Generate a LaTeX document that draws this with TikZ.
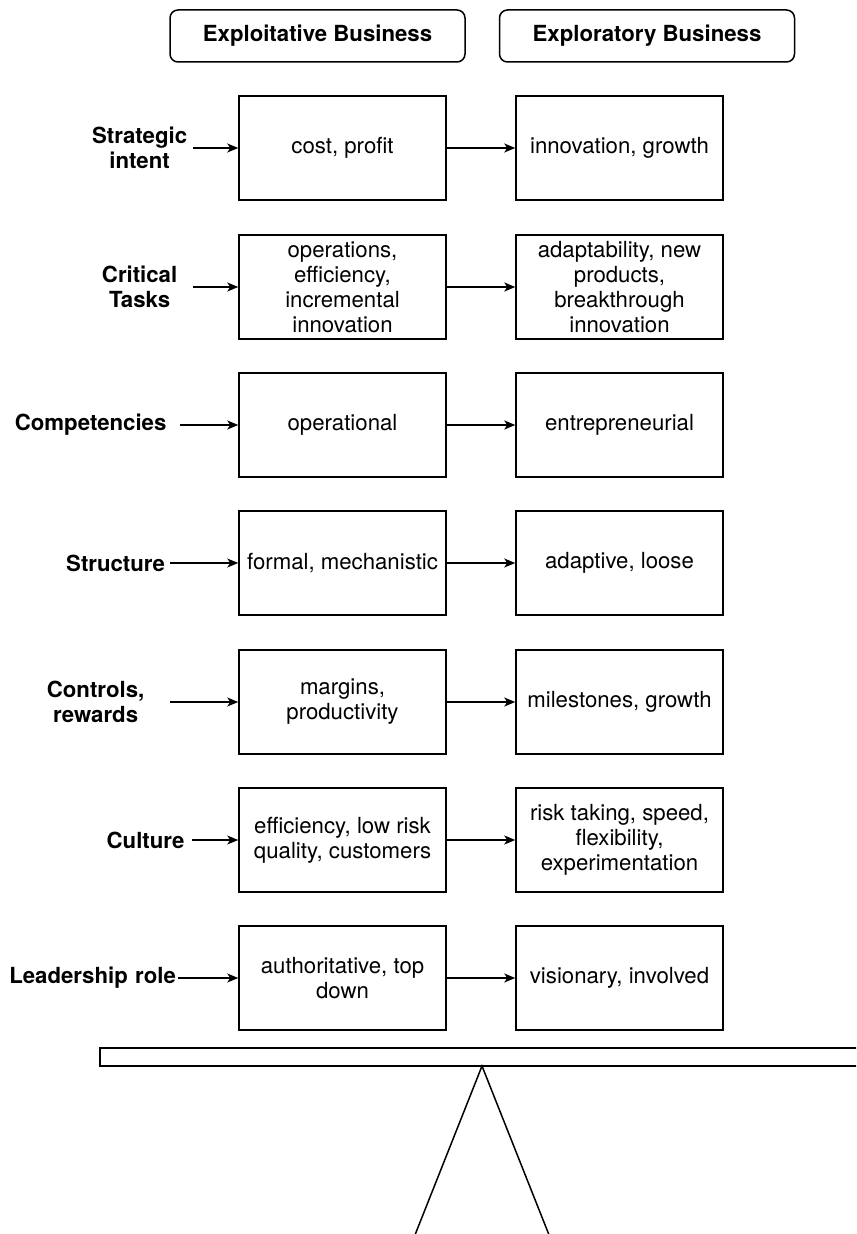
\documentclass[tikz,border=0pt]{standalone}
\usepackage{fontspec}
\setmainfont{TeX Gyre Heros}
\usetikzlibrary{arrows.meta}
\newcommand\diagfont{\fontsize{11.1}{12.5}\selectfont}
\tikzset{
  box/.style={draw, line width=0.75pt, minimum width=103.5pt, minimum height=52pt,
    align=center, inner sep=0pt, font=\diagfont},
  head/.style={draw, line width=0.75pt, rounded corners=4pt, minimum width=147.5pt,
    minimum height=26pt, inner sep=0pt, font=\diagfont\bfseries},
  lbl/.style={anchor=east, align=center, inner sep=0pt, font=\diagfont\bfseries},
  arr/.style={-{Stealth[length=5.5pt,width=4.5pt,inset=1.5pt]}, line width=0.75pt}
}
\begin{document}
\begin{tikzpicture}[x=0.5pt,y=-0.5pt]
  \useasboundingbox (0,0) rectangle (856,1234);
  % column heads
  \node[head] (hexploit) at (317.5,36) {Exploitative Business};
  \node[head] (hexplore) at (647,36) {Exploratory Business};
  % strategic intent
  \node[box] (cost) at (342.5,148) {cost, profit};
  \node[box] (growth) at (619.5,148) {innovation, growth};
  \node[lbl, text width=53pt] (intent) at (193,148) {Strategic\\intent};
  \draw[arr] (intent) -- (cost);
  \draw[arr] (cost) -- (growth);
  % critical tasks
  \node[box] (ops) at (342.5,287) {operations,\\efficiency,\\incremental\\innovation};
  \node[box] (adapt) at (619.5,287) {adaptability, new\\products,\\breakthrough\\innovation};
  \node[lbl, text width=53pt] (tasks) at (193,287) {Critical\\Tasks};
  \draw[arr] (tasks) -- (ops);
  \draw[arr] (ops) -- (adapt);
  % competencies
  \node[box] (operational) at (342.5,425) {operational};
  \node[box] (entre) at (619.5,425) {entrepreneurial};
  \node[lbl, text width=89pt] (compet) at (180,425) {Competencies};
  \draw[arr] (compet) -- (operational);
  \draw[arr] (operational) -- (entre);
  % structure
  \node[box] (formal) at (342.5,563) {formal, mechanistic};
  \node[box] (loose) at (619.5,563) {adaptive, loose};
  \node[lbl, text width=54pt] (struct) at (170,563) {Structure};
  \draw[arr] (struct) -- (formal);
  \draw[arr] (formal) -- (loose);
  % controls, rewards
  \node[box] (margins) at (342.5,702) {margins,\\productivity};
  \node[box] (miles) at (619.5,702) {milestones, growth};
  \node[lbl, text width=74pt] (controls) at (170,702) {Controls,\\rewards};
  \draw[arr] (controls) -- (margins);
  \draw[arr] (margins) -- (miles);
  % culture
  \node[box] (effic) at (342.5,840) {efficiency, low risk\\quality, customers};
  \node[box] (risk) at (619.5,840) {risk taking, speed,\\flexibility,\\experimentation};
  \node[lbl, text width=46pt] (culture) at (192,840) {Culture};
  \draw[arr] (culture) -- (effic);
  \draw[arr] (effic) -- (risk);
  % leadership role
  \node[box] (auth) at (342.5,978) {authoritative, top\\down};
  \node[box] (vision) at (619.5,978) {visionary, involved};
  \node[lbl, text width=85pt] (leader) at (178,978) {Leadership role};
  \draw[arr] (leader) -- (auth);
  \draw[arr] (auth) -- (vision);
  % balance
  \begin{scope}
    \clip (0,0) rectangle (856,1234);
    \draw[line width=0.75pt] (100,1048) rectangle (880,1066);
    \coordinate (apex) at (482,1066);
    \draw[line width=0.75pt] (409,1250) -- (apex) -- (555,1250);
  \end{scope}
\end{tikzpicture}
\end{document}
